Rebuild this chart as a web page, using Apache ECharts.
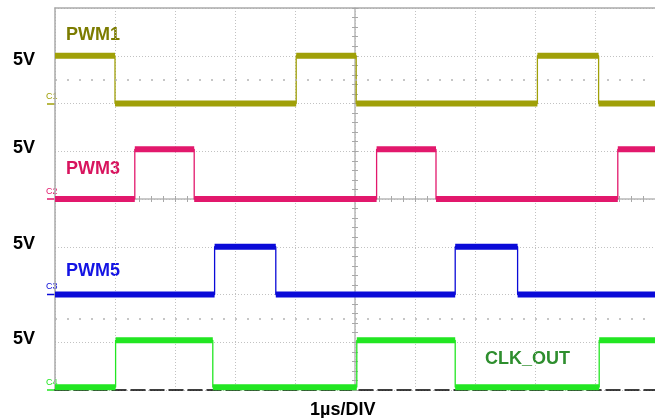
<!DOCTYPE html>
<html>
<head>
<meta charset="utf-8">
<script src="https://cdn.jsdelivr.net/npm/echarts@6/dist/echarts.min.js"></script>
<style>
html,body{margin:0;padding:0;background:#fff;}
#c{width:655px;height:418px;}
</style>
</head>
<body>
<div id="c"></div>
<script>
// ---- data (time in µs, voltage in V) ----
const channelNames = ['PWM1', 'PWM3', 'PWM5', 'CLK_OUT'];
const channelIds = ['C1', 'C2', 'C3', 'C4'];
const channelOffsetDiv = [2, 0, -2, -4];   // ground position in divisions
const voltsPerDiv = 5;
const xTickLabel = '1µs/DIV';
const voltLabel = '5V';

const pwm1T = [0, 1.0, 4.02, 5.02, 8.04, 9.06, 10];
const pwm1V = [5, 0, 5, 0, 5, 0, 0];
const pwm3T = [0, 1.33, 2.32, 5.36, 6.35, 9.38, 10];
const pwm3V = [0, 5.2, 0, 5.2, 0, 5.2, 5.2];
const pwm5T = [0, 2.66, 3.68, 6.67, 7.71, 10];
const pwm5V = [0, 5, 0, 5, 0, 0];
const clkT = [0, 1.01, 2.63, 5.03, 6.67, 9.07, 10];
const clkV = [0.3, 5.2, 0.3, 5.2, 0.3, 5.2, 5.2];

const traceT = [pwm1T, pwm3T, pwm5T, clkT];
const traceV = [pwm1V, pwm3V, pwm5V, clkV];
const traceColors = ['#a0a008', '#e2186c', '#0a0ad8', '#22e622'];
const labelColors = ['#7c7c00', '#d8145e', '#1414e4', '#2e8e2e'];

// ---- build series ----
const series = [];
for (let c = 0; c < 4; c++) {
  const T = traceT[c], V = traceV[c], off = channelOffsetDiv[c];
  const toDiv = v => off + v / voltsPerDiv;
  const seg = [];
  for (let i = 0; i < T.length - 1; i++) {
    seg.push([T[i], toDiv(V[i])]);
    seg.push([T[i + 1], toDiv(V[i])]);
    seg.push(null);
  }
  const pts = T.map((t, i) => [t, toDiv(V[i])]);
  series.push({
    type: 'line', data: pts, step: 'end', symbol: 'none',
    lineStyle: { color: traceColors[c], width: 1.3 }, animation: false, z: 3
  });
  const s = {
    type: 'line', data: seg, symbol: 'none', connectNulls: false,
    lineStyle: { color: traceColors[c], width: 6 }, animation: false, z: 4
  };
  if (c === 0) {
    s.markLine = {
      silent: true, symbol: 'none', label: { show: false }, animation: false,
      lineStyle: { color: '#b4b4b4', type: [2, 10], width: 1.5 },
      data: [{ yAxis: 2.5 }, { yAxis: -2.5 }]
    };
  }
  series.push(s);
}

const gridDot = { color: '#c2c2c2', type: [1, 2], width: 1 };
const hidden = { axisLabel: { show: false }, axisTick: { show: false }, splitLine: { show: false } };

const font = '"Liberation Sans", Arial, sans-serif';
const graphics = [];
const voltY = [60, 148, 244, 339.5];
const nameX = [66, 66, 66, 485];
const nameY = [35, 169.5, 271.5, 359.5];
const markerY = [104, 199, 294.5, 390];
for (let c = 0; c < 4; c++) {
  graphics.push({ type: 'text', left: 13, top: voltY[c] - 9, style: { text: voltLabel, font: 'bold 18px ' + font, fill: '#000' } });
  graphics.push({ type: 'text', left: nameX[c], top: nameY[c] - 9, style: { text: channelNames[c], font: 'bold 18px ' + font, fill: labelColors[c] } });
  graphics.push({ type: 'text', left: 46, top: markerY[c] - 12, style: { text: channelIds[c], font: '9px ' + font, fill: traceColors[c] } });
  graphics.push({ type: 'line', shape: { x1: 47, y1: markerY[c], x2: 55, y2: markerY[c] }, style: { stroke: traceColors[c], lineWidth: 1.5 } });
}
graphics.push({ type: 'text', left: 310, top: 401, style: { text: xTickLabel, font: 'bold 18px ' + font, fill: '#000' } });

const chart = echarts.init(document.getElementById('c'), null, { renderer: 'canvas' });
chart.setOption({
  backgroundColor: '#fff',
  animation: false,
  grid: { left: 55, top: 8, width: 600, height: 382 },
  xAxis: [
    Object.assign({}, hidden, { type: 'value', min: 0, max: 10, interval: 1, position: 'bottom',
      axisLine: { show: true, onZero: false, lineStyle: { color: '#000', type: [14, 5], width: 1.5 } },
      splitLine: { show: true, lineStyle: gridDot } }),
    Object.assign({}, hidden, { type: 'value', min: 0, max: 10, interval: 1, position: 'top',
      axisLine: { show: true, onZero: false, lineStyle: { color: '#aaaaaa', width: 1.5 } } }),
    Object.assign({}, hidden, { type: 'value', min: 0, max: 10, interval: 0.2,
      axisLine: { show: true, onZero: true, onZeroAxisIndex: 0, lineStyle: { color: '#b8b8b8', width: 1.5 } },
      axisTick: { show: true, inside: false, length: 3, lineStyle: { color: '#a8a8a8' } } }),
    Object.assign({}, hidden, { type: 'value', min: 0, max: 10, interval: 0.2,
      axisLine: { show: false, onZero: true, onZeroAxisIndex: 0 },
      axisTick: { show: true, inside: true, length: 3, lineStyle: { color: '#a8a8a8' } } }),
    Object.assign({}, hidden, { type: 'value', min: -5, max: 5, interval: 1,
      axisLine: { show: false, onZero: false } })
  ],
  yAxis: [
    Object.assign({}, hidden, { type: 'value', min: -4, max: 4, interval: 1, position: 'left',
      axisLine: { show: true, onZero: false, lineStyle: { color: '#aaaaaa', width: 1.5 } },
      splitLine: { show: true, lineStyle: gridDot } }),
    Object.assign({}, hidden, { type: 'value', min: -4, max: 4, interval: 0.2,
      axisLine: { show: true, onZero: true, onZeroAxisIndex: 4, lineStyle: { color: '#b8b8b8', width: 1.5 } },
      axisTick: { show: true, inside: false, length: 3, lineStyle: { color: '#a8a8a8' } } }),
    Object.assign({}, hidden, { type: 'value', min: -4, max: 4, interval: 0.2,
      axisLine: { show: false, onZero: true, onZeroAxisIndex: 4 },
      axisTick: { show: true, inside: true, length: 3, lineStyle: { color: '#a8a8a8' } } })
  ],
  series: series,
  graphic: graphics
});
</script>
</body>
</html>
